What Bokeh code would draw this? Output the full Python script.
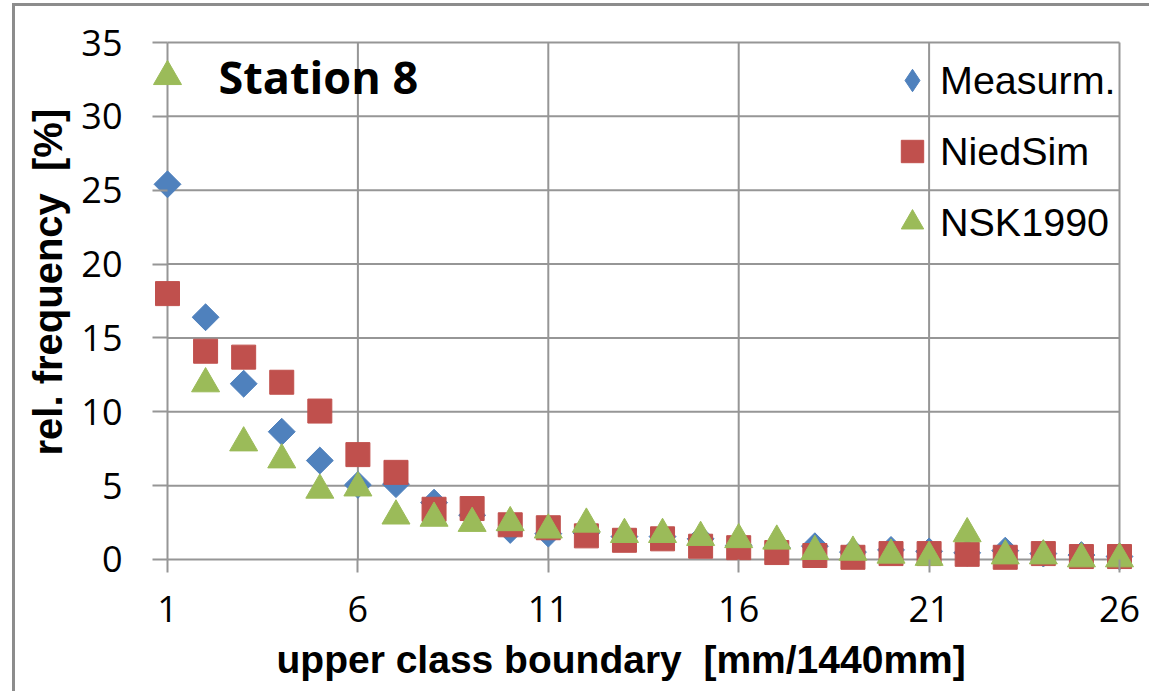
import math
from bokeh.plotting import figure
from bokeh.models import FixedTicker, Legend, LegendItem, Label, ColumnDataSource, Title
from bokeh.embed import file_html
from bokeh.resources import INLINE

# ---- data ----
classes = list(range(1, 27))
measurm = [25.4, 16.4, 11.9, 8.65, 6.7, 5.05, 5.1, 3.85, 3.0, 2.0, 1.75, 1.8, 1.55,
           1.55, 1.4, 0.95, 0.8, 0.9, 0.5, 0.65, 0.55, 0.45, 0.6, 0.4, 0.3, 0.2]
niedsim = [18.0, 14.1, 13.7, 12.0, 10.05, 7.1, 5.9, 3.4, 3.45, 2.35, 2.15, 1.6, 1.3,
           1.4, 0.9, 0.8, 0.47, 0.27, 0.15, 0.4, 0.4, 0.35, 0.15, 0.4, 0.2, 0.2]
nsk1990 = [32.7, 11.9, 7.9, 6.75, 4.7, 4.85, 2.95, 2.8, 2.45, 2.5, 2.0, 2.4, 1.7,
           1.7, 1.5, 1.35, 1.25, 0.55, 0.5, 0.3, 0.15, 1.75, 0.25, 0.25, 0.05, 0.05]
series_names = ["Measurm.", "NiedSim", "NSK1990"]
x_ticks = [1, 6, 11, 16, 21, 26]
y_ticks = [0, 5, 10, 15, 20, 25, 30, 35]
title_text = "Station 8"
x_title = "upper class boundary\u00a0 [mm/1440mm]"
y_title = "rel. frequency\u00a0 [%]"

BLUE = "#4f81bd"
RED = "#c0504d"
GREEN = "#9bbb59"
GRID = "#969696"

# ranges padded a little so that markers on the axes are not clipped
x_lo, x_hi = min(x_ticks), max(x_ticks)
y_lo, y_hi = min(y_ticks), max(y_ticks)
px_x = 38.08
px_y = 14.771
p = figure(width=1149, height=691,
           x_range=(x_lo - 15 / px_x, x_hi + 21 / px_x),
           y_range=(y_lo - 13 / px_y, y_hi + 2 / px_y),
           output_backend="svg", toolbar_location=None,
           min_border_left=152, min_border_right=9, min_border_top=40, min_border_bottom=119)
p.background_fill_color = "white"
p.border_fill_color = None
p.outline_line_color = None
p.grid.visible = False
p.styles = {
    "background-color": "white",
    "background-image": "linear-gradient(#8c8c8c, #8c8c8c), linear-gradient(#8c8c8c, #8c8c8c)",
    "background-size": "3px 100%, 100% 3px",
    "background-position": "12px 3px, 12px 3px",
    "background-repeat": "no-repeat",
}

for ax in (p.xaxis[0], p.yaxis[0]):
    ax.axis_line_color = None
    ax.major_tick_line_color = GRID
    ax.major_tick_line_width = 2
    ax.major_tick_out = 0
    ax.minor_tick_line_color = None
    ax.major_label_text_font = "Open Sans"
    ax.major_label_text_font_size = "36px"
    ax.major_label_text_color = "black"

p.xaxis.ticker = FixedTicker(ticks=x_ticks)
p.yaxis.ticker = FixedTicker(ticks=y_ticks)
p.xaxis.major_tick_in = 13
p.yaxis.major_tick_in = 15
p.xaxis.major_label_standoff = 23
p.yaxis.major_label_standoff = 30

# axis titles (placed off-centre as in the reference)
p.add_layout(Title(text=x_title, align="left", offset=124, standoff=22,
                   text_font="Liberation Sans", text_font_style="bold",
                   text_font_size="39px", text_color="black"), "below")
p.add_layout(Title(text=y_title, align="left", offset=117, standoff=14,
                   vertical_align="top",
                   text_font="Liberation Sans", text_font_style="bold",
                   text_font_size="40px", text_color="black"), "left")

# grid lines bounded to the axis extent
p.segment(x0=[x_lo] * len(y_ticks), x1=[x_hi] * len(y_ticks), y0=y_ticks, y1=y_ticks,
          line_color=GRID, line_width=2)
p.segment(x0=x_ticks, x1=x_ticks, y0=[y_lo] * len(x_ticks), y1=[y_hi] * len(x_ticks),
          line_color=GRID, line_width=2)

src = ColumnDataSource(dict(x=classes, m=measurm, n=niedsim, k=nsk1990))

r_m = p.scatter("x", "m", source=src, marker="square", angle=math.pi / 4, size=19,
                fill_color=BLUE, line_color=BLUE, line_width=1)
r_n = p.scatter("x", "n", source=src, marker="square", size=24,
                fill_color=RED, line_color=RED, line_width=1)
r_k = p.scatter("x", "k", source=src, marker="triangle", size=28,
                fill_color=GREEN, line_color=GREEN, line_width=1)
# legend key for the diamond series (no visible point of its own)
r_m_key = p.scatter(x=[float("nan")], y=[float("nan")], marker="diamond",
                    fill_color=BLUE, line_color=BLUE)

legend = Legend(items=[LegendItem(label=series_names[0], renderers=[r_m_key]),
                       LegendItem(label=series_names[1], renderers=[r_n]),
                       LegendItem(label=series_names[2], renderers=[r_k])],
                location=(732, 319), glyph_width=56, glyph_height=62, spacing=9,
                label_standoff=0, padding=0, margin=0,
                border_line_color=None, background_fill_alpha=0,
                label_text_font="Liberation Sans", label_text_font_size="39.5px",
                label_text_color="black")
p.add_layout(legend)

p.add_layout(Label(x=66, y=496, x_units="screen", y_units="screen", text=title_text,
                   text_font="Open Sans", text_font_style="bold", text_font_size="45px",
                   text_color="black", text_baseline="alphabetic"))

open("out.html", "w").write(file_html(p, INLINE))
